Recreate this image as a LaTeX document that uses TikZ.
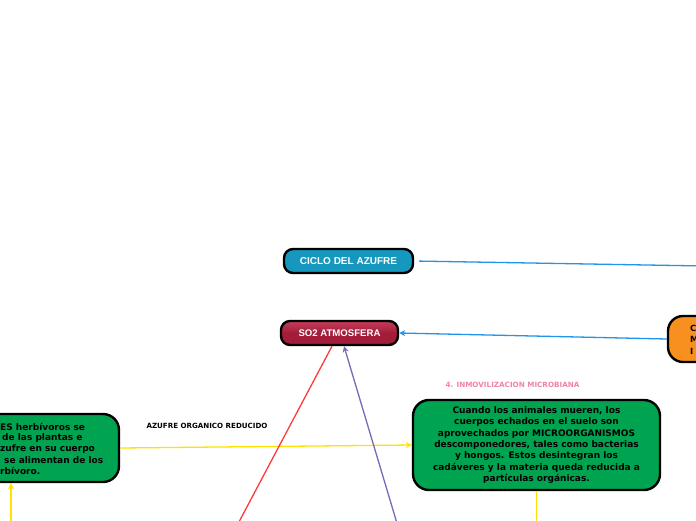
\documentclass[tikz,border=0pt]{standalone}
\usepackage{fontspec}
\setmainfont{DejaVu Sans}
\newfontfamily\arialbold{Liberation Sans}
\usetikzlibrary{arrows.meta}
\definecolor{cteal}{RGB}{22,152,190}
\definecolor{cwine}{RGB}{163,29,58}
\definecolor{cwinel}{RGB}{196,60,88}
\definecolor{cgreen}{RGB}{0,163,80}
\definecolor{corange}{RGB}{247,144,30}
\definecolor{cblue}{RGB}{33,150,232}
\definecolor{cyellow}{RGB}{255,226,0}
\definecolor{cred}{RGB}{255,59,59}
\definecolor{cpurple}{RGB}{123,104,184}
\definecolor{cpink}{RGB}{240,130,170}
\tikzset{
  mapbox/.style={draw=black, line width=2.4pt, rounded corners=9pt, inner sep=0pt, font=\arialbold\fontsize{10}{12}\selectfont\bfseries, text=white},
  bigbox/.style={draw=black, line width=2.4pt, rounded corners=16pt, inner sep=0pt, fill=cgreen, font=\fontsize{9}{11.4}\selectfont\bfseries, align=center},
  lbl/.style={font=\fontsize{7.1}{8}\selectfont\bfseries, inner sep=0pt},
  conn/.style={line width=1.3pt},
  tip/.style={-{Stealth[length=6pt,width=6pt]}}
}
\begin{document}
\begin{tikzpicture}[x=1pt,y=-1pt]
\clip (0,0) rectangle (696,520);
\fill[white] (0,0) rectangle (696,520);
% nodes
\node[mapbox, fill=cteal, minimum width=129pt, minimum height=24pt] (ciclo) at (348.5,261) {CICLO DEL AZUFRE};
\node[mapbox, top color=cwinel, bottom color=cwine, middle color=cwine, minimum width=117pt, minimum height=24pt, font=\arialbold\fontsize{9.6}{11}\selectfont\bfseries] (so2) at (339.5,333) {SO2 ATMOSFERA};
\node[draw=black, line width=2.4pt, rounded corners=15pt, fill=corange, minimum width=124pt, minimum height=46pt] (orange) at (730,339) {};
\node[anchor=west, align=left, inner sep=0pt, font=\fontsize{8.5}{11.5}\selectfont\bfseries] (orangetxt) at (690,339.5) {C\\M\\I};
\node[bigbox, minimum width=240pt, minimum height=68pt] (leftg) at (-1,448) {};
\begin{scope}[font=\fontsize{9}{11}\selectfont\bfseries]
\node[anchor=west, inner sep=0pt] (l1) at (0,427) {ES herbívoros se};
\node[anchor=west, inner sep=0pt] (l2) at (2,438) {de las plantas e};
\node[anchor=west, inner sep=0pt] (l3) at (0,449) {zufre en su cuerpo};
\node[anchor=west, inner sep=0pt] (l4) at (4,460) {se alimentan de los};
\node[anchor=west, inner sep=0pt] (l5) at (0,471) {rbívoro.};
\end{scope}
\node[bigbox, minimum width=247pt, minimum height=90pt] (rightg) at (536.5,445) {Cuando los animales mueren, los\\cuerpos echados en el suelo son\\aprovechados por MICROORGANISMOS\\descomponedores, tales como bacterias\\y hongos. Estos desintegran los\\cadáveres y la materia queda reducida a\\partículas orgánicas.};
% labels
\node[lbl] (azlbl) at (207,426) {AZUFRE ORGANICO REDUCIDO};
\node[lbl, text=cpink, font=\fontsize{7.2}{8}\selectfont\bfseries] (inmlbl) at (512.5,385) {4. INMOVILIZACION MICROBIANA};
% free ends
\coordinate (blueend) at (705,266);
\coordinate (redend) at (234.7,530);
\coordinate (purpend) at (399,530);
\coordinate (ylb) at (11,530);
\coordinate (yrb) at (536.5,530);
% connectors
\draw[conn, cblue, shorten <=5pt] (ciclo.east) -- (blueend);
\draw[conn, cblue, tip] (orange.west) -- (so2.east);
\draw[conn, cyellow, tip] (leftg.east) -- (rightg.west);
\draw[conn, cyellow, tip] (ylb) -- (ylb |- leftg.south);
\draw[conn, cyellow] (rightg.south) -- (yrb);
\draw[conn, cred] (so2.south -| 332,0) -- (redend);
\draw[conn, cpurple, tip] (purpend) -- (so2.south -| 344,0);
\end{tikzpicture}
\end{document}
